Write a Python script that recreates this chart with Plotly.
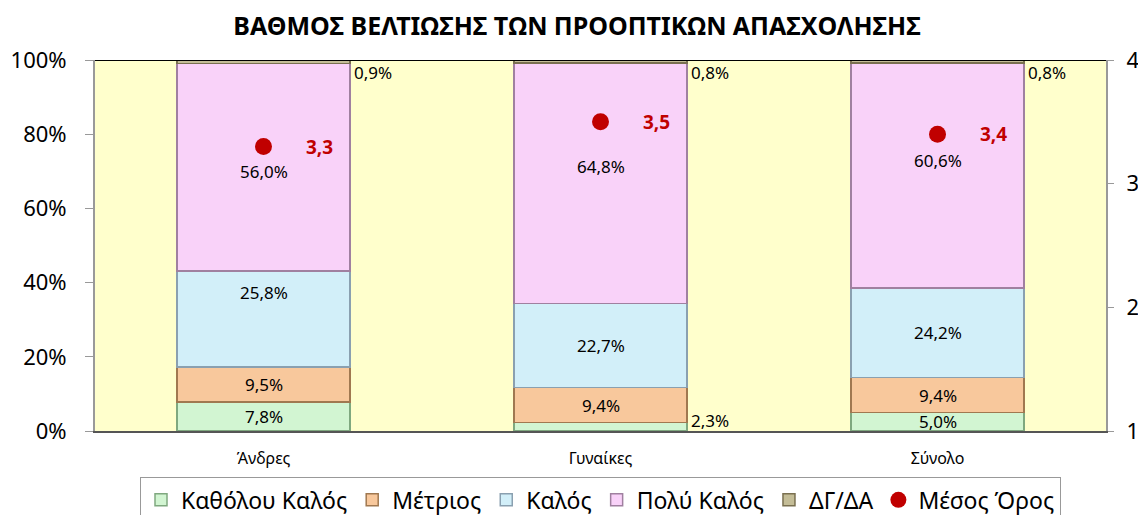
import plotly.graph_objects as go

categories = ["Άνδρες", "Γυναίκες", "Σύνολο"]
series_names = ["Καθόλου Καλός", "Μέτριος", "Καλός", "Πολύ Καλός", "ΔΓ/ΔΑ"]
katholou = [7.8, 2.3, 5.0]
metrios = [9.5, 9.4, 9.4]
kalos = [25.8, 22.7, 24.2]
poly_kalos = [56.0, 64.8, 60.6]
dg_da = [0.9, 0.8, 0.8]
mean_score = [3.3, 3.5, 3.4]
left_ticks = [0, 20, 40, 60, 80, 100]
right_ticks = [1, 2, 3, 4]

series = [katholou, metrios, kalos, poly_kalos, dg_da]
fills = ["#d2f5d2", "#f8c89c", "#d2eff9", "#f9d2f9", "#c4bd97"]
edges = ["#7fa87f", "#a07850", "#8aa0b0", "#a080a0", "#7a7050"]
# manual label nudges (pixels) as in the original chart: (category index, series index) -> yshift
label_nudge = {(0, 2): 26, (0, 3): -4, (1, 3): 17, (2, 3): 15}

def fmt(v, d=1):
    return f"{v:.{d}f}".replace(".", ",")

fig = go.Figure()
for name, vals, fc, ec in zip(series_names, series, fills, edges):
    fig.add_trace(go.Bar(
        x=categories, y=vals, name=name,
        marker=dict(color=fc, line=dict(color=ec, width=1.5)),
        hoverinfo="skip",
    ))

fig.add_trace(go.Scatter(
    x=categories, y=mean_score, name="Μέσος Όρος", yaxis="y2",
    mode="markers", marker=dict(color="#c00000", size=17),
    hoverinfo="skip",
))

ann = []
for i, c in enumerate(categories):
    base = 0.0
    for k, vals in enumerate(series):
        v = vals[i]
        if k == 4:
            ann.append(dict(x=c, y=100, xref="x", yref="y", text=fmt(v) + "%",
                            showarrow=False, xanchor="left", yanchor="top",
                            xshift=88, yshift=1, font=dict(size=17, color="#000")))
        elif v < 4:
            ann.append(dict(x=c, y=0, xref="x", yref="y", text=fmt(v) + "%",
                            showarrow=False, xanchor="left", yanchor="bottom",
                            xshift=88, yshift=-3, font=dict(size=17, color="#000")))
        else:
            ann.append(dict(x=c, y=base + v / 2, xref="x", yref="y", text=fmt(v) + "%",
                            showarrow=False, yshift=label_nudge.get((i, k), 0),
                            font=dict(size=17, color="#000")))
        base += v
    ann.append(dict(x=c, y=mean_score[i], xref="x", yref="y2", text="<b>" + fmt(mean_score[i]) + "</b>",
                    showarrow=False, xshift=56, font=dict(size=19, color="#c00000")))

fig.update_layout(
    width=1138, height=507,
    margin=dict(l=87, r=40, t=52, b=84, autoexpand=False),
    paper_bgcolor="white", plot_bgcolor="#ffffcc",
    barmode="stack", bargap=0.487,
    font=dict(family="Noto Sans, Open Sans, sans-serif", color="#000"),
    title=dict(text="<b>ΒΑΘΜΟΣ ΒΕΛΤΙΩΣΗΣ ΤΩΝ ΠΡΟΟΠΤΙΚΩΝ ΑΠΑΣΧΟΛΗΣΗΣ</b>",
               x=0.5, xanchor="center", y=0.965, yanchor="middle",
               font=dict(size=25, color="#000")),
    xaxis=dict(showline=True, linecolor="#555", linewidth=2, tickfont=dict(size=16),
               ticks="", showgrid=False, ticklabelstandoff=12),
    yaxis=dict(range=[0, 100], tickvals=left_ticks,
               ticktext=[f"{t}%" for t in left_ticks],
               tickfont=dict(size=22), showgrid=False, showline=True,
               linecolor="#999", linewidth=2, ticks="outside", tickcolor="#999",
               ticklen=8, zeroline=False, ticklabelstandoff=14),
    yaxis2=dict(range=[1, 4], tickvals=right_ticks, overlaying="y", side="right",
                tickfont=dict(size=22), showgrid=False, showline=True,
                linecolor="#999", linewidth=2, ticks="outside", tickcolor="#999",
                ticklen=6, zeroline=False, ticklabelstandoff=8),
    legend=dict(orientation="h", x=0.5, xanchor="center", y=-0.125, yanchor="top",
                bordercolor="#999", borderwidth=1, font=dict(size=23),
                traceorder="normal", itemwidth=30),
    annotations=ann,
    shapes=[dict(type="line", xref="paper", yref="y", x0=0, x1=1, y0=100, y1=100,
                 line=dict(color="#000", width=2))],
)

fig.write_html("out.html")
